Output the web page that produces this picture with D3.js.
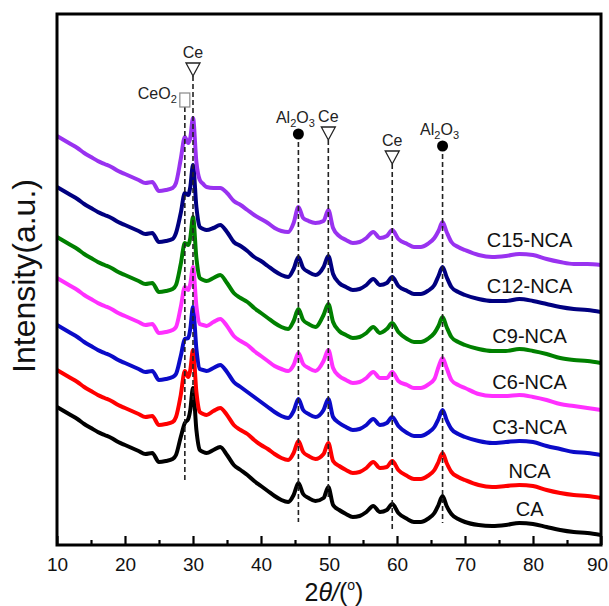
<!DOCTYPE html>
<html>
<head>
<meta charset="utf-8">
<script src="https://cdn.jsdelivr.net/npm/d3@7"></script>
<style>
body { margin: 0; background: #fff; }
svg { display: block; font-family: "Liberation Sans", Arial, sans-serif; }
</style>
</head>
<body>
<div id="xrd"></div>
<script>
// 2theta sampling (deg)
var twoTheta = [10,11,12,13,14,15,16,17,18,19,20,21,22,23,24,25,26,27,
  27.5,28.2,28.8,29.3,29.6,30,30.5,31,31.5,32,
  33,34,35,36,37,38,39,40,41,42,43,44,
  44.8,45.5,46.2,47,48,
  49.2,49.9,50.6,
  51.5,52.5,53.5,54.5,55.5,56.5,57.5,
  58.5,59.3,60.2,
  61.5,62.5,63.5,64.5,65.5,
  66.1,66.7,67.3,
  68,69,70,
  72,74,76,78,80,82,84,86,88,90];

// intensities (a.u., stacked)
var intCA = [138,134,130,126,121,117,113,110,107,103,100,97,94,91,92,83,84,86,
  90,108,122,126,135,157,115,95,93,92,
  95,98,90,80,75,70,64,59,54,49,45,43,
  50,62,51,47,44,
  47,58,40,
  35,31,28,29,33,39,33,
  35,41,32,
  26,23,23,26,32,
  40,49,39,
  31,26,23,
  20,19,20,22,21,18,15,13,12,10];

var intNCA = [175,171,167,163,158,154,150,147,144,140,137,134,131,128,129,120,121,123,
  128,150,174,168,175,195,153,133,131,130,
  134,137,130,120,115,111,105,100,96,91,87,85,
  92,104,93,89,86,
  91,102,84,
  79,75,72,73,77,83,77,
  78,84,75,
  69,66,66,69,75,
  83,92,82,
  73,68,65,
  60,58,59,60,59,55,52,50,49,47];

var intC3 = [220,216,212,208,203,199,195,192,189,185,182,179,176,173,174,165,166,168,
  171,189,206,207,216,238,196,176,175,174,
  177,180,173,163,158,153,148,143,138,133,129,127,
  134,146,135,131,128,
  135,146,128,
  122,118,115,116,120,126,120,
  122,128,119,
  112,109,109,112,118,
  126,135,125,
  116,111,108,
  104,102,103,104,103,99,96,93,92,90];

var intC6 = [267,263,259,255,250,246,242,239,236,232,229,226,223,220,221,212,213,215,
  218,238,258,255,261,278,239,221,220,219,
  223,226,219,209,204,200,194,189,184,179,176,174,
  180,192,181,177,174,
  184,195,177,
  169,165,162,163,167,173,167,
  167,173,164,
  160,157,157,160,166,
  178,187,177,
  165,160,157,
  151,149,149,150,148,145,141,139,137,135];

var intC9 = [308,304,300,296,291,287,283,280,277,273,270,267,264,261,262,253,254,256,
  260,281,302,300,307,328,287,267,265,264,
  267,270,262,252,247,243,237,232,227,222,218,216,
  224,236,225,221,218,
  230,241,223,
  214,210,207,208,212,218,212,
  216,222,213,
  206,203,203,206,212,
  219,228,218,
  208,203,200,
  196,194,194,196,194,191,187,185,184,182];

var intC12 = [358,354,350,346,341,337,333,330,327,323,320,317,314,311,312,303,304,306,
  312,332,352,350,358,380,338,318,316,315,
  317,320,313,303,299,294,288,284,279,274,270,268,
  276,288,277,273,270,
  278,289,271,
  262,258,255,256,260,266,260,
  262,268,259,
  254,251,251,254,260,
  269,278,268,
  258,253,250,
  246,244,244,246,244,241,238,236,235,233];

var intC15 = [409,405,401,397,392,388,384,381,378,374,371,368,365,362,363,354,355,357,
  362,386,408,402,407,427,383,365,361,358,
  357,357,352,344,340,335,330,326,322,317,314,313,
  322,338,327,324,322,
  324,335,317,
  309,305,302,303,307,313,307,
  309,315,306,
  301,298,298,301,307,
  314,323,313,
  303,298,295,
  290,288,289,291,290,286,283,281,281,280];

var sampleNames = ["CA", "NCA", "C3-NCA", "C6-NCA", "C9-NCA", "C12-NCA", "C15-NCA"];
var sampleColors = ["#000000", "#ff0000", "#0b0bc8", "#ff30ff", "#008000", "#000080", "#9932f0"];

var xTicks = [10, 20, 30, 40, 50, 60, 70, 80, 90];
var xMinorTicks = [15, 25, 35, 45, 55, 65, 75, 85];

// reflection marks
var peakTheta = [28.8, 30.0, 45.5, 49.9, 59.3, 66.7];
var peakPhase = ["CeO2", "Ce", "Al2O3", "Ce", "Ce", "Al2O3"];
var peakMarkLevel = [445, 476, 411, 412, 388, 399];
var peakLineEnd = [65, 145, 23, 45, 15, 22];

var series = [intCA, intNCA, intC3, intC6, intC9, intC12, intC15];

var W = 609, H = 606;
var pLeft = 57, pRight = 601, pTop = 14, pBottom = 545;

var svg = d3.select("#xrd")
  .append("svg")
  .attr("width", W)
  .attr("height", H);

var xscale = d3.scaleLinear()
  .domain([10, 90])
  .range([pLeft, pRight]);

var yscale = d3.scaleLinear()
  .domain([0, pBottom - pTop])
  .range([pBottom, pTop]);

svg.append("clipPath")
  .attr("id", "plotclip")
  .append("rect")
  .attr("x", pLeft).attr("y", pTop)
  .attr("width", pRight - pLeft).attr("height", pBottom - pTop);

// curves
var kreska = d3.line()
  .x(function (d) { return xscale(d[0]) })
  .y(function (d) { return yscale(d[1]) })
  .curve(d3.curveMonotoneX);

var curves = svg.append("g").attr("clip-path", "url(#plotclip)");
series.forEach(function (vals, i) {
  var pts = twoTheta.map(function (t, j) { return [t, vals[j]] });
  curves.append("path")
    .datum(pts)
    .attr("fill", "none")
    .attr("stroke", sampleColors[i])
    .attr("stroke-width", 4)
    .attr("stroke-linejoin", "round")
    .attr("d", kreska);
});

// sample labels
var i80 = twoTheta.indexOf(80);
series.forEach(function (vals, i) {
  svg.append("text")
    .attr("x", xscale(79.5))
    .attr("y", yscale(vals[i80]) - 8)
    .attr("text-anchor", "middle")
    .style("font-size", "20px")
    .style("fill", "#111")
    .text(sampleNames[i]);
});

// phase names with subscripts, e.g. Al2O3
function phaseText(sel, name, subSize) {
  var parts = name.match(/[A-Za-z]+|\d+/g);
  var shift = 0;
  parts.forEach(function (p) {
    if (/\d/.test(p)) {
      sel.append("tspan").attr("dy", 4 - shift).style("font-size", subSize).text(p);
      shift = 4;
    } else {
      sel.append("tspan").attr("dy", -shift).text(p);
      shift = 0;
    }
  });
}

var marks = svg.append("g");
peakTheta.forEach(function (t, i) {
  var cx = xscale(t), cy = yscale(peakMarkLevel[i]);
  var ph = peakPhase[i];
  var startY = (ph === "Al2O3") ? cy : cy + 7;
  marks.append("line")
    .attr("x1", cx).attr("x2", cx)
    .attr("y1", startY).attr("y2", yscale(peakLineEnd[i]))
    .attr("stroke", "#222")
    .attr("stroke-width", 1.6)
    .attr("stroke-dasharray", "5,3");

  if (ph === "Ce") {
    marks.append("path")
      .attr("d", "M" + (cx - 7) + "," + (cy - 6) + "L" + (cx + 7) + "," + (cy - 6) + "L" + cx + "," + (cy + 7) + "Z")
      .attr("fill", "none")
      .attr("stroke", "#222")
      .attr("stroke-width", 1.3);
    var t1 = marks.append("text")
      .attr("x", cx).attr("y", cy - 11)
      .attr("text-anchor", "middle")
      .style("font-size", "16px").style("fill", "#222");
    phaseText(t1, ph, "10px");
  } else if (ph === "CeO2") {
    marks.append("rect")
      .attr("x", cx - 5).attr("y", cy - 7)
      .attr("width", 10).attr("height", 14)
      .attr("fill", "none")
      .attr("stroke", "#888")
      .attr("stroke-width", 1.2);
    var t2 = marks.append("text")
      .attr("x", cx - 8).attr("y", cy - 1)
      .attr("text-anchor", "end")
      .style("font-size", "16px").style("fill", "#222");
    phaseText(t2, ph, "11px");
  } else {
    marks.append("circle")
      .attr("cx", cx).attr("cy", cy).attr("r", 5.5)
      .attr("fill", "#000");
    var t3 = marks.append("text")
      .attr("x", cx - 3).attr("y", cy - 11)
      .attr("text-anchor", "middle")
      .style("font-size", "16px").style("fill", "#222");
    phaseText(t3, ph, "11px");
  }
});

// x axis, ticks inward
var xAxisG = svg.append("g")
  .attr("transform", "translate(0," + pBottom + ")");
xAxisG.call(d3.axisBottom(xscale)
    .tickValues(xTicks)
    .tickSizeInner(-9)
    .tickSizeOuter(0)
    .tickPadding(13)
    .tickFormat(d3.format("d")));
xAxisG.select(".domain").remove();
xAxisG.selectAll(".tick line").attr("stroke", "#000").attr("stroke-width", 2.2);
xAxisG.selectAll("text")
  .style("font-size", "19px")
  .style("font-family", "'Liberation Sans', Arial, sans-serif")
  .attr("fill", "#111")
  .attr("dx", function (d) { return d === 90 ? -4 : 0 });

var xMinorG = svg.append("g")
  .attr("transform", "translate(0," + pBottom + ")");
xMinorG.call(d3.axisBottom(xscale)
    .tickValues(xMinorTicks)
    .tickSizeInner(-5)
    .tickSizeOuter(0)
    .tickFormat(""));
xMinorG.select(".domain").remove();
xMinorG.selectAll(".tick line").attr("stroke", "#000").attr("stroke-width", 2.2);

// frame
svg.append("rect")
  .attr("x", pLeft).attr("y", pTop)
  .attr("width", pRight - pLeft).attr("height", pBottom - pTop)
  .attr("fill", "none")
  .attr("stroke", "#000")
  .attr("stroke-width", 3);

// axis titles
var xt = svg.append("text")
  .attr("x", (pLeft + pRight) / 2 + 5)
  .attr("y", 601)
  .attr("text-anchor", "middle")
  .style("font-size", "25px")
  .style("fill", "#111");
xt.append("tspan").text("2");
xt.append("tspan").style("font-style", "italic").text("\u03b8/");
xt.append("tspan").text("(");
xt.append("tspan").attr("dy", -11).style("font-size", "14px").text("o");
xt.append("tspan").attr("dy", 11).text(")");

svg.append("text")
  .attr("transform", "translate(35,276) rotate(-90)")
  .attr("text-anchor", "middle")
  .style("font-size", "32px")
  .style("fill", "#111")
  .text("Intensity(a.u.)");
</script>
</body>
</html>
